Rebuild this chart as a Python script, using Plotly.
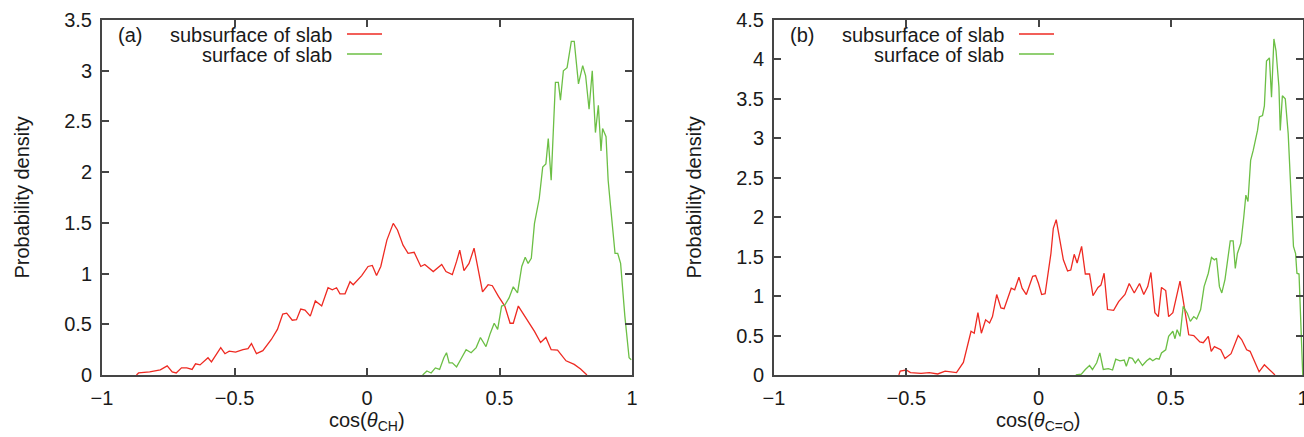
import plotly.graph_objects as go

# ---------------- data ----------------
# Panel (a): cos(theta_CH)
a_sub_x = [-0.87, -0.862, -0.82, -0.78, -0.754, -0.735, -0.72, -0.70, -0.68, -0.66, -0.647, -0.63,
           -0.60, -0.587, -0.552, -0.536, -0.52, -0.496, -0.468, -0.449, -0.436, -0.417, -0.393,
           -0.361, -0.338, -0.318, -0.303, -0.282, -0.266, -0.25, -0.234, -0.214, -0.195, -0.171,
           -0.147, -0.131, -0.115, -0.102, -0.083, -0.064, -0.052, -0.02, 0.004, 0.02, 0.036,
           0.052, 0.075, 0.099, 0.115, 0.136, 0.155, 0.178, 0.203, 0.218, 0.25, 0.282, 0.298,
           0.322, 0.338, 0.35, 0.366, 0.385, 0.404, 0.436, 0.457, 0.473, 0.496, 0.52, 0.54,
           0.552, 0.571, 0.60, 0.632, 0.655, 0.675, 0.695, 0.719, 0.751, 0.782, 0.806, 0.83]
a_sub_y = [0.0, 0.02, 0.03, 0.05, 0.09, 0.03, 0.02, 0.07, 0.07, 0.055, 0.11, 0.10,
           0.17, 0.13, 0.27, 0.21, 0.235, 0.225, 0.25, 0.26, 0.31, 0.21, 0.24,
           0.35, 0.45, 0.60, 0.61, 0.54, 0.545, 0.65, 0.64, 0.58, 0.73, 0.68,
           0.86, 0.84, 0.86, 0.80, 0.80, 0.92, 0.89, 0.98, 1.07, 1.08, 0.98,
           1.07, 1.33, 1.495, 1.43, 1.28, 1.20, 1.21, 1.07, 1.09, 1.02, 1.09, 1.02,
           0.99, 1.12, 1.23, 1.03, 1.10, 1.25, 0.82, 0.89, 0.88, 0.775, 0.68, 0.51,
           0.51, 0.68, 0.56, 0.43, 0.32, 0.37, 0.25, 0.245, 0.14, 0.105, 0.06, 0.0]

a_surf_x = [0.21, 0.226, 0.242, 0.258, 0.274, 0.29, 0.30, 0.31, 0.322, 0.338, 0.353, 0.374,
            0.393, 0.412, 0.428, 0.449, 0.465, 0.48, 0.493, 0.508, 0.52, 0.536, 0.552, 0.568,
            0.584, 0.597, 0.608, 0.62, 0.632, 0.65, 0.663, 0.675, 0.684, 0.695, 0.711, 0.722,
            0.73, 0.741, 0.755, 0.771, 0.782, 0.798, 0.814, 0.825, 0.838, 0.85, 0.862, 0.873,
            0.883, 0.889, 0.902, 0.91, 0.917, 0.936, 0.946, 0.957, 0.973, 0.989, 0.997]
a_surf_y = [0.0, 0.04, 0.02, 0.07, 0.055, 0.17, 0.22, 0.12, 0.12, 0.08, 0.15, 0.25,
            0.22, 0.27, 0.37, 0.28, 0.41, 0.51, 0.45, 0.68, 0.69, 0.76, 0.87, 0.81,
            1.07, 1.16, 1.10, 1.15, 1.495, 1.74, 2.05, 2.08, 2.33, 1.92, 2.885, 2.885,
            2.71, 3.0, 3.03, 3.29, 3.29, 2.87, 3.05, 2.95, 2.62, 3.0, 2.39, 2.66,
            2.21, 2.43, 2.35, 1.92, 1.72, 1.20, 1.20, 1.10, 0.58, 0.17, 0.15]

# Panel (b): cos(theta_C=O)
b_sub_x = [-0.528, -0.523, -0.5, -0.484, -0.444, -0.413, -0.381, -0.353, -0.31, -0.295, -0.284,
           -0.255, -0.243, -0.229, -0.216, -0.2, -0.185, -0.174, -0.158, -0.142, -0.13, -0.103,
           -0.09, -0.074, -0.062, -0.046, -0.022, -0.011, 0.0, 0.012, 0.025, 0.047, 0.056, 0.067,
           0.078, 0.094, 0.11, 0.122, 0.135, 0.146, 0.163, 0.177, 0.193, 0.206, 0.225, 0.236,
           0.248, 0.261, 0.284, 0.303, 0.327, 0.343, 0.362, 0.382, 0.398, 0.413, 0.425, 0.44,
           0.453, 0.465, 0.481, 0.492, 0.508, 0.524, 0.535, 0.547, 0.568, 0.587, 0.61, 0.623,
           0.642, 0.653, 0.665, 0.689, 0.705, 0.728, 0.755, 0.768, 0.787, 0.8, 0.823, 0.834,
           0.854, 0.875, 0.894]
b_sub_y = [0.0, 0.05, 0.063, 0.03, 0.02, 0.03, 0.013, 0.05, 0.03, 0.11, 0.16,
           0.555, 0.53, 0.79, 0.53, 0.70, 0.66, 0.74, 1.02, 0.85, 0.84, 1.10,
           1.08, 1.24, 1.10, 1.02, 1.25, 1.26, 1.16, 1.02, 1.03, 1.54, 1.86, 1.97,
           1.75, 1.46, 1.32, 1.33, 1.53, 1.42, 1.63, 1.28, 1.28, 1.005, 1.11, 1.14,
           1.29, 0.83, 0.82, 0.93, 1.02, 1.16, 1.04, 1.16, 1.02, 1.12, 1.30, 0.79,
           0.74, 1.11, 1.07, 0.74, 0.79, 1.04, 1.19, 0.95, 0.51, 0.50, 0.42, 0.41,
           0.49, 0.30, 0.36, 0.32, 0.21, 0.27, 0.50, 0.45, 0.32, 0.30, 0.11, 0.04,
           0.13, 0.06, 0.0]

b_surf_x = [0.141, 0.162, 0.177, 0.193, 0.204, 0.22, 0.232, 0.245, 0.264, 0.28, 0.292, 0.308,
            0.324, 0.332, 0.343, 0.355, 0.366, 0.377, 0.393, 0.409, 0.421, 0.432, 0.445, 0.456,
            0.465, 0.481, 0.492, 0.508, 0.516, 0.524, 0.535, 0.547, 0.563, 0.574, 0.587, 0.598,
            0.613, 0.626, 0.642, 0.654, 0.665, 0.673, 0.684, 0.693, 0.705, 0.716, 0.725, 0.736,
            0.744, 0.752, 0.765, 0.776, 0.784, 0.792, 0.802, 0.812, 0.82, 0.828, 0.835, 0.847,
            0.854, 0.862, 0.873, 0.881, 0.89, 0.898, 0.909, 0.914, 0.922, 0.933, 0.944, 0.957,
            0.964, 0.972, 0.977, 0.985, 0.993, 0.999]
b_surf_y = [0.0, 0.01, 0.07, 0.12, 0.07, 0.155, 0.28, 0.07, 0.08, 0.063, 0.20, 0.18,
            0.19, 0.11, 0.22, 0.21, 0.15, 0.20, 0.12, 0.18, 0.21, 0.18, 0.21, 0.20,
            0.28, 0.32, 0.49, 0.555, 0.46, 0.575, 0.49, 0.87, 0.78, 0.68, 0.74, 0.71,
            0.83, 1.12, 1.29, 1.49, 1.46, 1.48, 1.12, 1.04, 1.21, 1.50, 1.70, 1.70,
            1.35, 1.54, 1.67, 2.0, 2.28, 2.20, 2.72, 2.85, 2.97, 3.10, 3.27, 3.29,
            3.41, 3.98, 4.02, 3.52, 4.26, 4.11, 3.65, 3.10, 3.54, 3.50, 3.06, 2.13,
            1.63, 1.54, 1.29, 1.28, 0.53, 0.0]

x_ticks = [-1, -0.5, 0, 0.5, 1]
x_tick_labels = ["\u22121", "\u22120.5", "0", "0.5", "1"]
a_y_ticks = [0, 0.5, 1, 1.5, 2, 2.5, 3, 3.5]
b_y_ticks = [0, 0.5, 1, 1.5, 2, 2.5, 3, 3.5, 4, 4.5]
series_names = ["subsurface of slab", "surface of slab"]
panel_labels = ["(a)", "(b)"]
x_titles = ["cos(<i>\u03b8</i><sub>CH</sub>)", "cos(<i>\u03b8</i><sub>C=O</sub>)"]
y_title = "Probability density"

# ---------------- style ----------------
W, H = 1304, 437
RED = "#ee2a22"
GREEN = "#6cbf45"
FRAME = "#454545"
TXT = "#1a1a1a"
FONT = "Liberation Sans, Arial, Helvetica, sans-serif"
FS = 20

def px(xp):
    return xp / W

def py(yp):
    return 1 - yp / H

panels = [  # left, right, top, bottom (pixels)
    (102, 632, 20, 375),
    (774, 1303, 20, 375),
]

fig = go.Figure()

data = [(a_sub_x, a_sub_y, a_surf_x, a_surf_y), (b_sub_x, b_sub_y, b_surf_x, b_surf_y)]
for i, (sx, sy, fx, fy) in enumerate(data):
    xa = "x" if i == 0 else "x2"
    ya = "y" if i == 0 else "y2"
    fig.add_trace(go.Scatter(x=sx, y=sy, mode="lines", line=dict(color=RED, width=1.3),
                             xaxis=xa, yaxis=ya, showlegend=False, name=series_names[0]))
    fig.add_trace(go.Scatter(x=fx, y=fy, mode="lines", line=dict(color=GREEN, width=1.3),
                             xaxis=xa, yaxis=ya, showlegend=False, name=series_names[1]))

axis_common = dict(showline=True, linecolor=FRAME, linewidth=2, mirror="ticks",
                   ticks="inside", ticklen=7, tickwidth=1.5, tickcolor=FRAME,
                   showgrid=False, zeroline=False, automargin=False,
                   ticklabeloverflow="allow",
                   tickfont=dict(family=FONT, size=FS, color=TXT))

for i, (l, r, t, b) in enumerate(panels):
    sfx = "" if i == 0 else "2"
    yt = a_y_ticks if i == 0 else b_y_ticks
    fig.update_layout(**{
        "xaxis" + sfx: dict(domain=[px(l), px(r)], range=[-1, 1], tickvals=x_ticks,
                            ticktext=x_tick_labels, anchor="y" + sfx, ticklabelstandoff=4,
                            **axis_common),
        "yaxis" + sfx: dict(domain=[py(b), py(t)], range=[0, yt[-1]], tickvals=yt,
                            anchor="x" + sfx, ticklabelstandoff=4, **axis_common),
    })
    # axis titles
    fig.add_annotation(x=px((l + r) / 2), y=py(421), xref="paper", yref="paper",
                       text=x_titles[i], showarrow=False, xanchor="center", yanchor="middle",
                       font=dict(family=FONT, size=FS, color=TXT))
    fig.add_annotation(x=px(l - 81), y=py((t + b) / 2), xref="paper", yref="paper",
                       text=y_title, showarrow=False, textangle=-90, xanchor="center",
                       yanchor="middle", font=dict(family=FONT, size=FS, color=TXT))
    # panel label
    fig.add_annotation(x=px(l + 14), y=py(35), xref="paper", yref="paper",
                       text=panel_labels[i], showarrow=False, xanchor="left", yanchor="middle",
                       font=dict(family=FONT, size=FS, color=TXT))
    # key
    for k, (name, col) in enumerate(zip(series_names, [RED, GREEN])):
        yk = 35 + 20 * k
        fig.add_annotation(x=px(l + 232), y=py(yk), xref="paper", yref="paper",
                           text=name, showarrow=False, xanchor="right", yanchor="middle",
                           font=dict(family=FONT, size=FS, color=TXT))
        fig.add_shape(type="line", xref="paper", yref="paper",
                      x0=px(l + 245), x1=px(l + 280), y0=py(yk - 1), y1=py(yk - 1),
                      line=dict(color=col, width=1.5))

fig.update_layout(template="none", width=W, height=H, margin=dict(l=0, r=0, t=0, b=0, pad=0),
                  paper_bgcolor="white", plot_bgcolor="white",
                  font=dict(family=FONT, size=FS, color=TXT))

fig.write_html("out.html")
